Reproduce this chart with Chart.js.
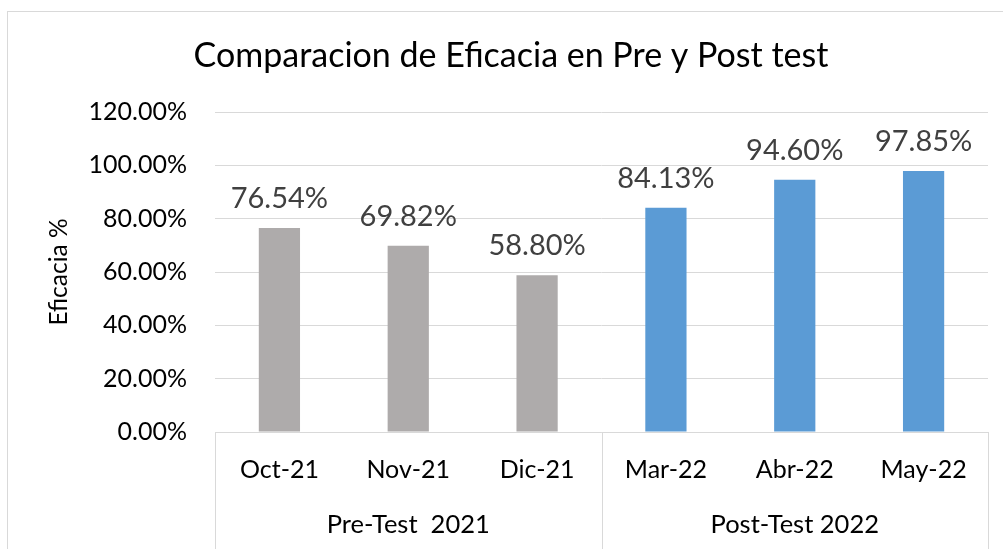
<!DOCTYPE html>
<html>
<head>
<meta charset="utf-8">
<script src="https://cdn.jsdelivr.net/npm/chart.js@4/dist/chart.umd.min.js"></script>
<style>
  html, body { margin: 0; padding: 0; background: #fff; }
  #wrap { width: 1003px; height: 549px; position: relative; }
</style>
</head>
<body>
<div id="wrap"><canvas id="chart"></canvas></div>
<script>
const months = ["Oct-21", "Nov-21", "Dic-21", "Mar-22", "Abr-22", "May-22"];
const eficacia = [76.54, 69.82, 58.80, 84.13, 94.60, 97.85];
const groups = ["Pre-Test  2021", "Post-Test 2022"];
const groupSize = [3, 3];
const barColors = ["#AEABAB", "#AEABAB", "#AEABAB", "#5B9BD5", "#5B9BD5", "#5B9BD5"];

const FONT = "Lato, 'Liberation Sans', sans-serif";
const frameColor = "#D9D9D9";

// frame, title, value labels and the grouped category box
const decorations = {
  id: "decorations",
  afterDraw(chart) {
    const { ctx, chartArea, scales } = chart;
    const x = scales.x;
    const bottom = chart.height;
    ctx.save();

    ctx.strokeStyle = frameColor;
    ctx.lineWidth = 1;
    ctx.strokeRect(7.5, 11.5, 1010, 560);

    ctx.fillStyle = "#000";
    ctx.font = "34px " + FONT;
    ctx.textAlign = "center";
    ctx.textBaseline = "middle";
    ctx.fillText("Comparacion de Eficacia en Pre y Post test", 511, 56);

    // value labels above each bar
    const meta = chart.getDatasetMeta(0);
    ctx.fillStyle = "#404040";
    ctx.font = "29px " + FONT;
    ctx.textBaseline = "alphabetic";
    meta.data.forEach((bar, i) => {
      ctx.fillText(eficacia[i].toFixed(2) + "%", bar.x, bar.y - 20);
    });

    // category box lines
    const half = (x.getPixelForValue(1) - x.getPixelForValue(0)) / 2;
    ctx.strokeStyle = frameColor;
    ctx.beginPath();
    ctx.moveTo(chartArea.left, chartArea.bottom + 0.5);
    ctx.lineTo(chartArea.right, chartArea.bottom + 0.5);
    let idx = 0;
    const edges = [chartArea.left];
    groupSize.forEach((n) => {
      idx += n;
      edges.push(idx >= months.length ? chartArea.right : x.getPixelForValue(idx) - half);
    });
    edges.forEach((ex) => {
      const px = Math.round(ex) + 0.5;
      ctx.moveTo(px, chartArea.bottom);
      ctx.lineTo(px, bottom);
    });
    ctx.stroke();

    // group labels
    ctx.fillStyle = "#000";
    ctx.font = "25.5px " + FONT;
    ctx.textBaseline = "middle";
    groups.forEach((g, i) => {
      ctx.fillText(g, (edges[i] + edges[i + 1]) / 2, 525);
    });
    ctx.restore();
  },
};

new Chart(document.getElementById("chart"), {
  type: "bar",
  data: {
    labels: months,
    datasets: [{
      data: eficacia,
      backgroundColor: barColors,
      barPercentage: 0.32,
      categoryPercentage: 1,
    }],
  },
  options: {
    responsive: true,
    maintainAspectRatio: false,
    animation: false,
    layout: { padding: { top: 112, left: 0, right: 15, bottom: 0 } },
    plugins: {
      legend: { display: false },
      tooltip: { enabled: false },
    },
    scales: {
      x: {
        grid: { display: false, drawTicks: false },
        border: { display: false },
        ticks: { color: "#000", font: { family: FONT, size: 25 }, padding: 23, maxRotation: 0 },
        afterFit(scale) { scale.height = 117; },
      },
      y: {
        min: 0,
        max: 120,
        ticks: {
          stepSize: 20,
          color: "#000",
          font: { family: FONT, size: 25 },
          padding: 28,
          callback: (v) => v.toFixed(2) + "%",
        },
        grid: { color: frameColor, drawTicks: false },
        border: { display: false },
        title: {
          display: true,
          text: "Eficacia %",
          color: "#000",
          font: { family: FONT, size: 24.5 },
          padding: { top: 44, bottom: 0 },
        },
        afterFit(scale) { scale.width = 215; },
      },
    },
  },
  plugins: [decorations],
});
</script>
</body>
</html>
